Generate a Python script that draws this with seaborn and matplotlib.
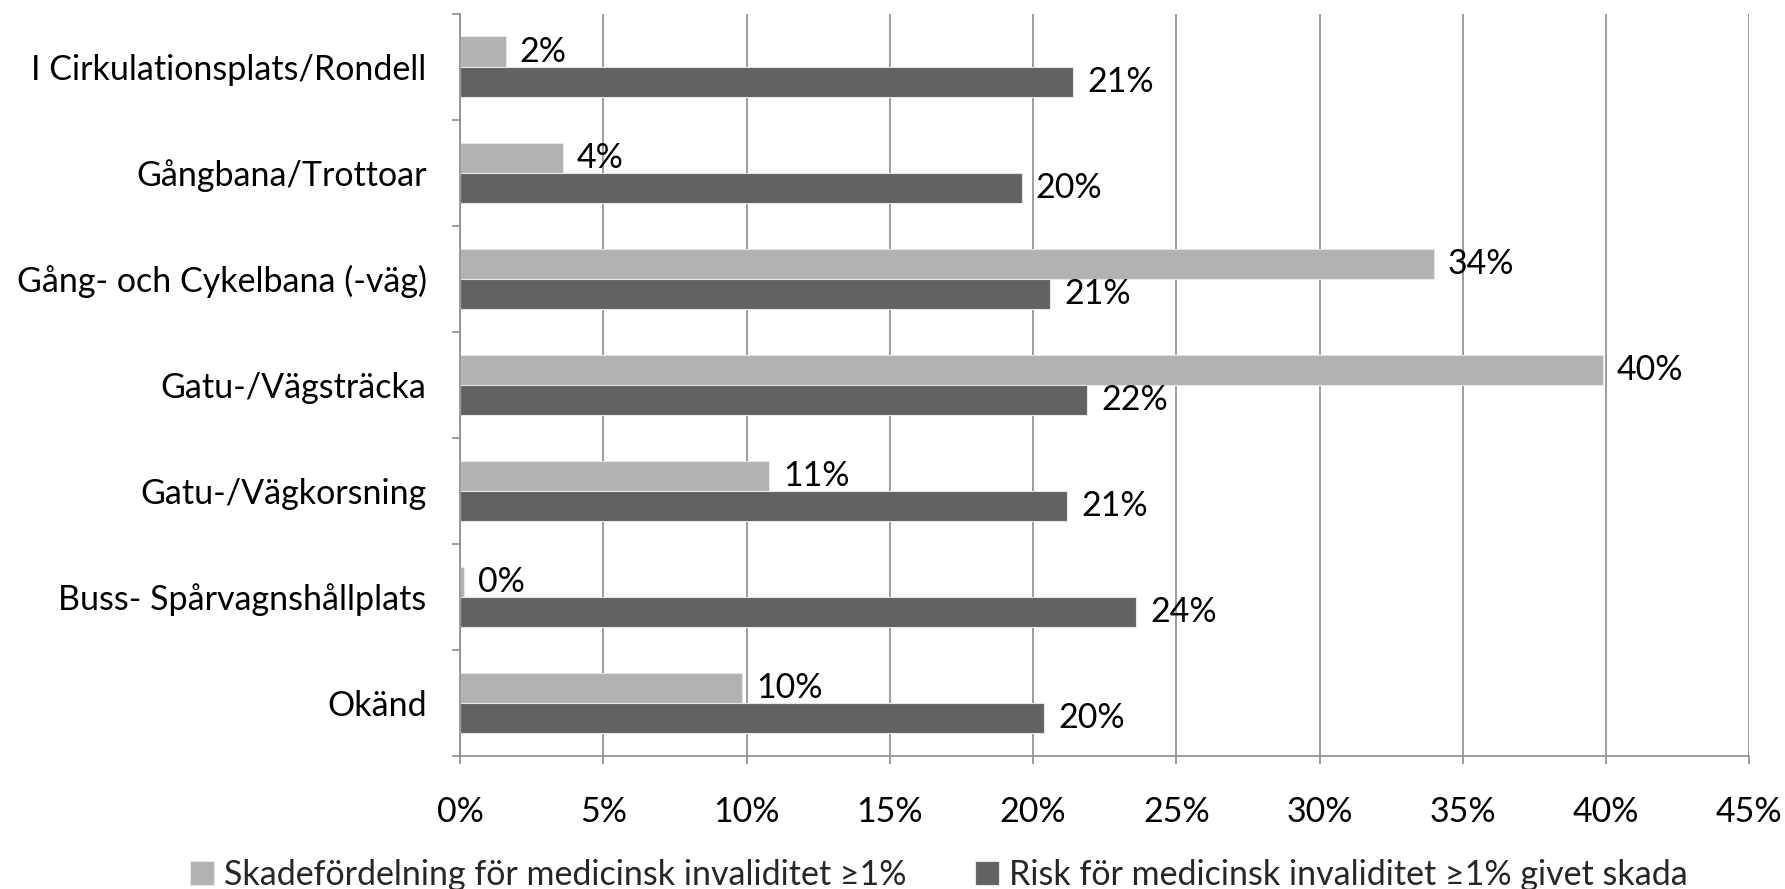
import matplotlib
matplotlib.use("Agg")
import matplotlib.pyplot as plt
import seaborn as sns
import pandas as pd

# -----------------------------
# Data
# -----------------------------
categories = [
    "I Cirkulationsplats/Rondell",
    "Gångbana/Trottoar",
    "Gång- och Cykelbana (-väg)",
    "Gatu-/Vägsträcka",
    "Gatu-/Vägkorsning",
    "Buss- Spårvagnshållplats",
    "Okänd",
]
skadefordelning = [1.6, 3.6, 34.0, 39.9, 10.8, 0.15, 9.85]
risk = [21.4, 19.6, 20.6, 21.9, 21.2, 23.6, 20.4]
series_names = [
    "Skadefördelning för medicinsk invaliditet ≥1%",
    "Risk för medicinsk invaliditet ≥1% givet skada",
]
x_ticks = [0, 5, 10, 15, 20, 25, 30, 35, 40, 45]

LIGHT = "#b2b2b2"
DARK = "#626262"
GRID = "#8c8c8c"

df = pd.DataFrame({
    "category": categories * 2,
    "value": skadefordelning + risk,
    "series": [series_names[0]] * len(categories) + [series_names[1]] * len(categories),
})

# -----------------------------
# Plot
# -----------------------------
sns.set_theme(style="white")
plt.rcParams["font.family"] = ["Lato", "DejaVu Sans"]
FS = 24.5

fig, ax = plt.subplots(figsize=(17.85, 8.89), dpi=100)
fig.subplots_adjust(left=0.2577, right=0.980, top=0.9846, bottom=0.1496)

sns.barplot(
    data=df, x="value", y="category", hue="series",
    hue_order=series_names, order=categories,
    palette=[LIGHT, DARK], orient="h", width=0.57,
    ax=ax, saturation=1, legend=True,
    edgecolor="#e6e6e6", linewidth=0.8,
)

ax.set_xlim(0, 45)
ax.set_ylim(len(categories) - 0.5, -0.5)
ax.set_xticks(x_ticks)
ax.set_xticklabels([f"{t}%" for t in x_ticks], fontsize=FS, color="black")
ax.set_xlabel("")
ax.set_ylabel("")

ax.xaxis.grid(True, color=GRID, linewidth=1.2)
ax.yaxis.grid(False)
ax.set_axisbelow(True)

for side in ["top", "right"]:
    ax.spines[side].set_visible(False)
for side in ["left", "bottom"]:
    ax.spines[side].set_color(GRID)
    ax.spines[side].set_linewidth(1.2)

ax.tick_params(axis="x", which="major", direction="out", length=6, width=1.2,
               color=GRID, pad=23, bottom=True)
ax.tick_params(axis="y", which="major", length=0, pad=24, labelsize=FS, labelcolor="black")
ax.set_yticks([i - 0.5 for i in range(len(categories) + 1)], minor=True)
ax.tick_params(axis="y", which="minor", direction="out", length=6, width=1.2,
               color=GRID, left=True)

# data labels
for container, vals in zip(ax.containers, [skadefordelning, risk]):
    ax.bar_label(container, labels=[f"{round(v)}%" for v in vals],
                 padding=10, fontsize=FS, color="black")

handles, labels = ax.get_legend_handles_labels()
ax.get_legend().remove()
fig.legend(handles, labels, loc="center", bbox_to_anchor=(0.526, 0.016),
           ncol=2, frameon=False, fontsize=FS, handlelength=0.7,
           handleheight=0.7, handletextpad=0.3, columnspacing=2.0)

plt.savefig("out.png", dpi=100)
